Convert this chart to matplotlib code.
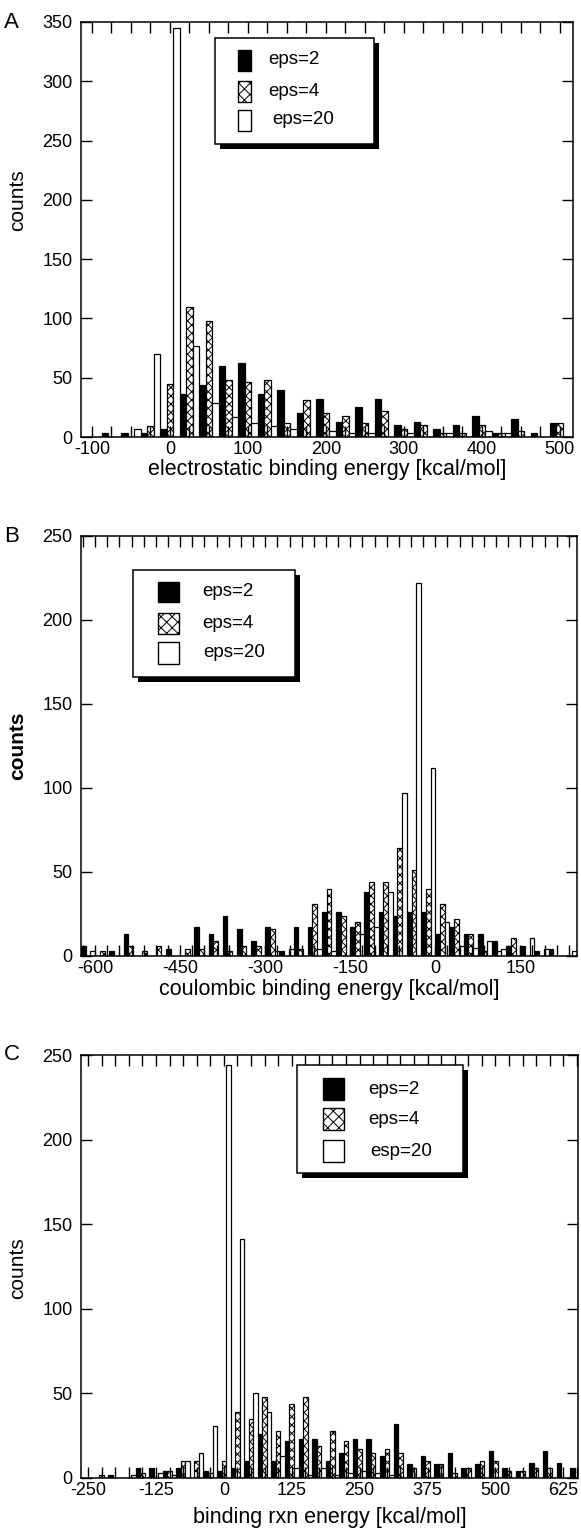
import numpy as np
import matplotlib
matplotlib.use('Agg')
from matplotlib import pyplot as plt
from matplotlib.patches import Rectangle
from matplotlib.ticker import MultipleLocator

plt.rcParams['font.family'] = ['Liberation Sans', 'DejaVu Sans']
plt.rcParams['axes.unicode_minus'] = False
plt.rcParams['hatch.linewidth'] = 0.7

# ---- panel A: electrostatic binding energy (bins of 25, centred on 25k)
a_bins = np.arange(-75, 501, 25)
a_eps2 = [3, 3, 3, 7, 36, 44, 60, 62, 36, 40, 20, 32, 13, 25, 32, 10, 13, 7, 10, 18, 3, 15, 3, 12]
a_eps4 = [0, 0, 9, 45, 110, 98, 48, 46, 48, 12, 31, 20, 18, 12, 22, 7, 10, 3, 3, 10, 3, 5, 0, 12]
a_eps20 = [0, 7, 70, 345, 77, 29, 17, 12, 9, 7, 0, 5, 3, 3, 0, 3, 0, 3, 0, 5, 3, 0, 0, 0]

# ---- panel B: coulombic binding energy (bins of 25, centred on 25k+12.5)
b_bins = np.arange(-612.5, 240, 25)
b_eps2 = [6, 0, 3, 13, 0, 0, 4, 0, 17, 13, 24, 16, 9, 17, 3, 17, 17, 26, 26, 17,
          38, 26, 24, 26, 26, 13, 17, 13, 13, 9, 6, 6, 3, 4, 0]
b_eps4 = [0, 3, 0, 6, 3, 6, 0, 4, 4, 9, 3, 6, 6, 16, 0, 4, 31, 40, 24, 20,
          44, 44, 64, 51, 40, 31, 22, 13, 3, 3, 11, 0, 0, 0, 0]
b_eps20 = [3, 0, 0, 0, 0, 0, 0, 0, 0, 0, 0, 0, 0, 3, 4, 0, 4, 3, 0, 13,
           17, 38, 97, 222, 112, 20, 6, 5, 9, 4, 0, 11, 4, 0, 3]

# ---- panel C: binding rxn energy (bins of 25, centred on 25k)
c_bins = np.arange(-225, 651, 25)
c_eps2 = [0, 2, 0, 6, 6, 4, 6, 0, 4, 4, 6, 10, 26, 10, 22, 23, 23, 10, 15, 23,
          23, 13, 32, 8, 13, 8, 15, 6, 8, 16, 6, 4, 9, 16, 9, 6]
c_eps4 = [2, 0, 0, 3, 0, 4, 10, 10, 3, 10, 39, 35, 48, 28, 44, 48, 19, 28, 22, 17,
          15, 17, 15, 6, 10, 8, 3, 6, 10, 10, 4, 4, 6, 6, 0, 0]
c_eps20 = [0, 0, 2, 0, 3, 2, 10, 15, 31, 244, 141, 50, 39, 13, 6, 2, 6, 2, 3, 4,
           3, 2, 0, 0, 0, 0, 0, 0, 0, 0, 0, 0, 0, 0, 0, 0]

W, H = 581, 1539

def fx(x):
    return x / W

def fy(y):
    return 1 - y / H

# layout in pixels (from top-left corner)
panels = [
    dict(tag='A', bins=a_bins, ys=(a_eps2, a_eps4, a_eps20),
         labels=('eps=2', 'eps=4', 'eps=20'),
         xlabel='electrostatic binding energy [kcal/mol]', ylab_y=200, xlab_y=470,
         bold=False, xlim=(-114, 517), ylim=(0, 350), major=100, minor=25,
         px=(81, 573, 22, 437),
         box=(215, 38, 374, 144), sw=(238, 251, 21), rows=(60, 91, 120), tx=(268, 268, 272)),
    dict(tag='B', bins=b_bins, ys=(b_eps2, b_eps4, b_eps20),
         labels=('eps=2', 'eps=4', 'eps=20'),
         xlabel='coulombic binding energy [kcal/mol]', ylab_y=746, xlab_y=990,
         bold=True, xlim=(-625, 250), ylim=(0, 250), major=150, minor=150 / 7,
         px=(81, 577, 536, 956),
         box=(133, 570, 295, 677), sw=(158, 179, 21), rows=(592, 623, 653), tx=(202, 202, 203)),
    dict(tag='C', bins=c_bins, ys=(c_eps2, c_eps4, c_eps20),
         labels=('eps=2', 'eps=4', 'esp=20'),
         xlabel='binding rxn energy [kcal/mol]', ylab_y=1268, xlab_y=1518,
         bold=False, xlim=(-263, 652), ylim=(0, 250), major=125, minor=25,
         px=(81, 578, 1055, 1478),
         box=(297, 1065, 463, 1173), sw=(323, 344, 22), rows=(1089, 1119, 1151), tx=(368, 368, 370)),
]

fig = plt.figure(figsize=(W / 100, H / 100), dpi=100)
styles = [dict(facecolor='black', edgecolor='black'),
          dict(facecolor='white', edgecolor='black', hatch='xxxx'),
          dict(facecolor='white', edgecolor='black')]
leg_styles = [dict(facecolor='black', edgecolor='black'),
              dict(facecolor='white', edgecolor='black', hatch='xxx'),
              dict(facecolor='white', edgecolor='black')]

for p in panels:
    l, r, t, b = p['px']
    ax = fig.add_axes([fx(l), fy(b), fx(r - l), (b - t) / H])
    wd = 25 / 3
    for i, (y, st) in enumerate(zip(p['ys'], styles)):
        ax.bar(p['bins'] + (i - 1) * wd, y, width=wd, linewidth=0.9, **st)
    ax.set_xlim(*p['xlim'])
    ax.set_ylim(*p['ylim'])
    ax.xaxis.set_major_locator(MultipleLocator(p['major']))
    ax.xaxis.set_minor_locator(MultipleLocator(p['minor']))
    ax.yaxis.set_major_locator(MultipleLocator(50))
    ax.tick_params(which='both', direction='in', top=True, right=True,
                   length=8, width=1, labelsize=13)
    ax.tick_params(axis='x', pad=3)
    ax.tick_params(axis='y', pad=6)
    ax.tick_params(axis='y', which='minor', left=False, right=False)
    for s in ax.spines.values():
        s.set_linewidth(1.1)

    ax.set_xlabel(p['xlabel'], fontsize=15.5, va='center')
    ax.xaxis.set_label_coords(0.5, -(p['xlab_y'] - b) / (b - t))
    ax.set_ylabel('counts', fontsize=15, va='center',
                  fontweight='bold' if p['bold'] else 'normal')
    ax.yaxis.set_label_coords(-(l - 18) / (r - l), (b - p['ylab_y']) / (b - t))
    fig.text(fx(4), fy(t), p['tag'], fontsize=16, va='center', ha='left')

    # legend box with solid drop shadow
    x0, y0, x1, y1 = p['box']
    fig.add_artist(Rectangle((fx(x0 + 5), fy(y1 + 5)), fx(x1 - x0), (y1 - y0) / H,
                             transform=fig.transFigure, facecolor='black',
                             edgecolor='none', zorder=3))
    fig.add_artist(Rectangle((fx(x0), fy(y1)), fx(x1 - x0), (y1 - y0) / H,
                             transform=fig.transFigure, facecolor='white',
                             edgecolor='black', linewidth=1.1, zorder=4))
    sx0, sx1, sh = p['sw']
    for yc, st, lab, tx in zip(p['rows'], leg_styles, p['labels'], p['tx']):
        fig.add_artist(Rectangle((fx(sx0), fy(yc + sh / 2)), fx(sx1 - sx0), sh / H,
                                 transform=fig.transFigure, linewidth=1, zorder=5, **st))
        fig.text(fx(tx), fy(yc), lab, fontsize=13.5, va='center', ha='left', zorder=5)

fig.savefig('out.png', dpi=100)
